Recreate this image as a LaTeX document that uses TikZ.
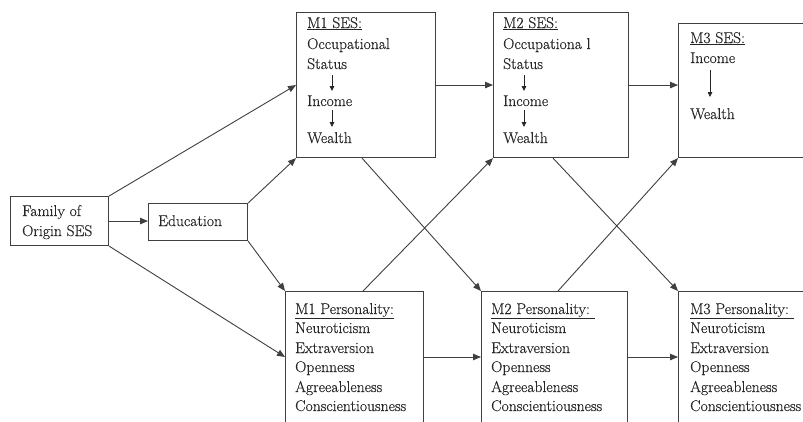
\documentclass[tikz,border=0pt]{standalone}
\usepackage{fontspec}
\setmainfont{Latin Modern Roman}[FakeBold=0.35]
\usetikzlibrary{arrows.meta,calc}
\definecolor{ln}{gray}{0.25}
\definecolor{tx}{gray}{0.15}
\begin{document}
\begin{tikzpicture}[x=1pt,y=-1pt,
  box/.style={draw=ln,line width=1.1pt,rectangle,inner sep=0pt,anchor=north west},
  txt/.style={inner sep=0pt,anchor=base west,text=tx,font=\fontsize{15.6}{19.5}\selectfont},
  arr/.style={draw=ln,line width=0.9pt,-{Triangle[length=8pt,width=6.5pt]}},
  sarr/.style={draw=tx,line width=0.8pt,-{Triangle[length=5pt,width=4.5pt]}}]
\useasboundingbox (0,0) rectangle (803,421);
\clip (0,0) rectangle (803,421);
\fill[white] (0,0) rectangle (803,421);
% boxes
\node[box,minimum width=98pt,minimum height=49pt] (fam) at (10,196) {};
\node[box,minimum width=99pt,minimum height=37pt] (edu) at (148,203) {};
\node[box,minimum width=139pt,minimum height=145pt] (m1s) at (296,12) {};
\node[box,minimum width=135pt,minimum height=145pt] (m2s) at (493,12) {};
\node[box,minimum width=160pt,minimum height=134pt] (m3s) at (678,23) {};
\node[box,minimum width=138pt,minimum height=160pt] (m1p) at (285,291) {};
\node[box,minimum width=146pt,minimum height=160pt] (m2p) at (481,291) {};
\node[box,minimum width=160pt,minimum height=160pt] (m3p) at (678,291) {};
% texts
\node[txt] (famA) at (22,216) {Family of};
\node[txt] (famB) at (22,236) {Origin SES};
\node[txt] (eduT) at (158,226) {Education};
\node[txt] (s1t) at (307,28) {\underline{M1 SES:}};
\node[txt] (s1o) at (307,49) {Occupational};
\node[txt] (s1s) at (307,69) {Status};
\node[txt] (s1i) at (307,106) {Income};
\node[txt] (s1w) at (307,143) {Wealth};
\node[txt] (s2t) at (503,28) {\underline{M2 SES:}};
\node[txt] (s2o) at (503,49) {Occupationa l};
\node[txt] (s2s) at (503,69) {Status};
\node[txt] (s2i) at (503,106) {Income};
\node[txt] (s2w) at (503,143) {Wealth};
\node[txt] (s3t) at (690,43) {\underline{M3 SES:}};
\node[txt] (s3i) at (690,63) {Income};
\node[txt] (s3w) at (690,119) {Wealth};
\foreach \n/\x/\t in {1/295/M1 Personality:,2/491/M2 Personality:\ ,3/690/M3 Personality:\ }{
  \node[txt] (p\n t) at (\x,314) {\underline{\t}};
  \node[txt] (p\n a) at (\x,333) {Neuroticism};
  \node[txt] (p\n b) at (\x,353) {Extraversion};
  \node[txt] (p\n c) at (\x,372) {Openness};
  \node[txt] (p\n d) at (\x,392) {Agreeableness};
  \node[txt] (p\n e) at (\x,411) {Conscientiousness};
}
% small arrows
\draw[sarr] ([shift={(25,6)}]s1s.base west) -- ([shift={(25,-15)}]s1i.base west);
\draw[sarr] ([shift={(25,4)}]s1i.base west) -- ([shift={(25,-16)}]s1w.base west);
\draw[sarr] ([shift={(21,6)}]s2s.base west) -- ([shift={(21,-15)}]s2i.base west);
\draw[sarr] ([shift={(21,4)}]s2i.base west) -- ([shift={(21,-16)}]s2w.base west);
\draw[sarr] ([shift={(20,7)}]s3i.base west) -- ([shift={(20,-22)}]s3w.base west);
% connectors
\draw[arr] (fam.north east) -- (m1s.west);
\draw[arr] (fam.east) -- (fam.east -| edu.west);
\draw[arr] (edu.north east) -- (m1s.south west);
\draw[arr] (fam.south east) -- ([yshift=-66pt]m1p.north west);
\draw[arr] (edu.south east) -- (m1p.north west);
\draw[arr] (m1s.east) -- (m1s.east -| m2s.west);
\draw[arr] (m2s.east) -- (m2s.east -| m3s.west);
\draw[arr] ([xshift=66pt]m1s.south west) -- (m2p.north west);
\draw[arr] ([xshift=78pt]m1p.north west) -- (m2s.south west);
\draw[arr] ([xshift=60pt]m2s.south west) -- (m3p.north west);
\draw[arr] ([xshift=77pt]m2p.north west) -- (m3s.south west);
\draw[arr] ([yshift=-66pt]m1p.north east) -- ([yshift=-66pt]m2p.north west);
\draw[arr] ([yshift=-66pt]m2p.north east) -- ([yshift=-66pt]m3p.north west);
\end{tikzpicture}
\end{document}
